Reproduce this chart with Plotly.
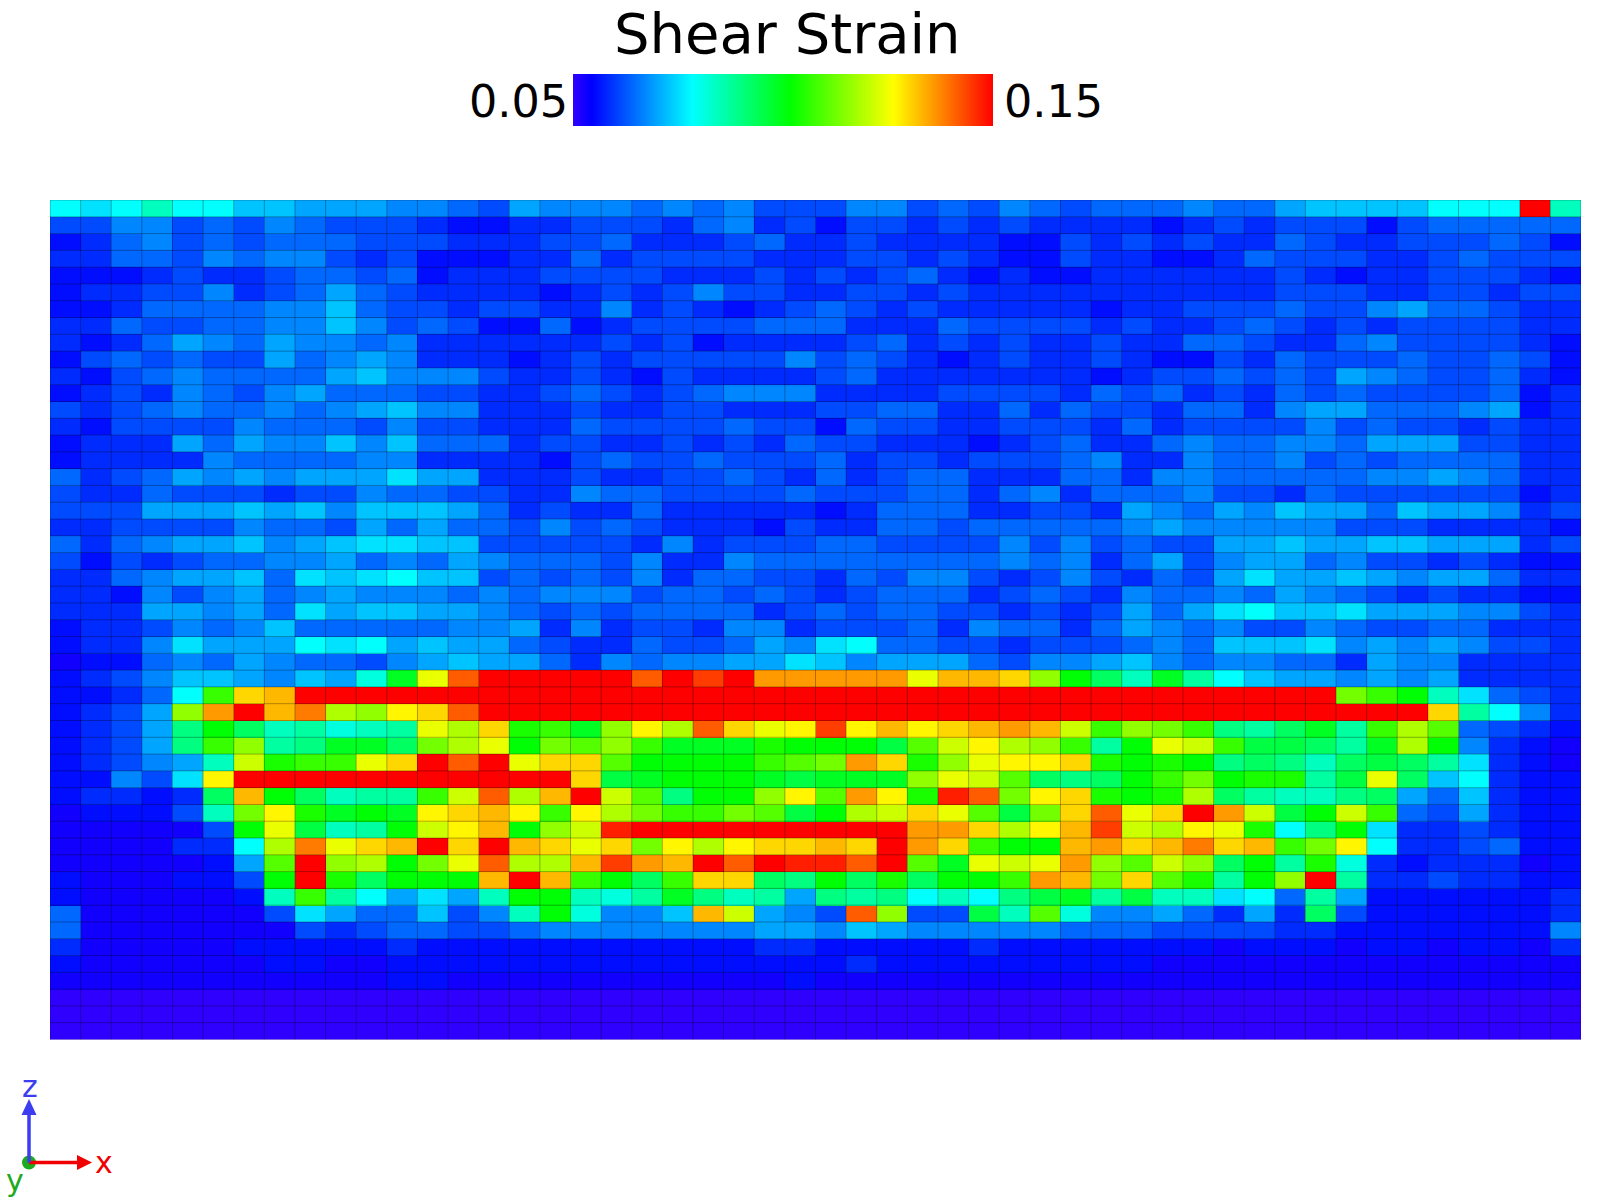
"""
Shear strain map of a 50 x 50 cell slice, seen along y.
"""
import plotly.graph_objects as go

# Cell readings, top row first, one character per cell. The character's place
# in LEVELS gives the reading on the colour bar, from 0.05 up to 0.15.
LEVELS = "0123456789abcdefghijklmnopqrstuvwxyz"
strain_min = 0.05
strain_max = 0.15

shear_rows = [
    "a9acaa8877 7665476665 6564446645 4654555655 78888aaazc",
    "4466454654 4432233444 3563424434 3433332343 4442455555",
    "2356454555 4443334453 3345334333 3224343433 5433444542",
    "3355465664 3422233534 4443334434 3224332235 4443345444",
    "2223433455 4523334444 3334343453 2322333333 4323344432",
    "2334463457 5433332343 4644334434 3333333333 4443344344",
    "2235555668 5443443363 4323454343 3333233444 5446755433",
    "3354455668 6454225234 4445553335 4444343345 4343444433",
    "3235765766 5633333343 4233334534 3433433554 3356444432",
    "2454544756 7633323434 4444645432 3433432243 5444544542",
    "3245655557 8666433432 4333345333 3333234454 5476544532",
    "2343654675 5544334543 4566633334 4443545343 5454444523",
    "4345655656 7866333433 4433344553 3535443553 6775556723",
    "3244446555 4644333544 4454425443 3444353444 4645443433",
    "2333757668 6855534433 4343544333 2345335655 6657774433",
    "2333365555 6633332454 4544453443 4445633655 6454555533",
    "5345767677 7977333433 4454353455 3335536655 5556676533",
    "4335444344 6554433655 4444544455 3563555644 3544444423",
    "4447778786 8887534335 3333323555 3344376576 8775877634",
    "3344446554 7575546454 3332433554 5555567666 6644433332",
    "5356778678 9988444443 6344455444 4646454477 8778877734",
    "4243455667 5657655546 3365555555 5656357467 7564434322",
    "3356778598 9a88454546 3554435466 4346435479 7787677533",
    "3326467567 6665656664 5545434555 3454365565 7654343322",
    "3337767597 8877654545 5553454554 434347579a 8897776643",
    "2334656855 5556673634 4366344453 6553576564 4654455333",
    "23369777a9 a787754335 445769a554 4344456588 8967676443",
    "1225657655 4678775365 6677986777 5466786566 5537663333",
    "2346887687 bhqwzzzzzw zxzuuuuuqt tsnifchda8 7767673333",
    "2235akstzz zzzzzzzzzz zzzzzzzzzz zzzzzzzzzz zzmkic9543",
    "2347nuztvo nrswzzzzzz zzzzzzzzzz zzzzzzzzzz zzzzzsda63",
    "2347eifcdb cdqosjkhnr owsqrxrtrs tutpknmked fhdkol5432",
    "2347ekndeh hfmoqimlnk hhhjiiiglp ronkdiqpkg gfdhoi6321",
    "23467cpjkk qszwzqssli iiiklmusjn qrrsjijief ecfgfd9321",
    "22649rzzzz zzzzzzzsgh iiihghhhnq plfefikmij jdgqf8a322",
    "23323ftifc ddkpwotzpl eiinrlurjy wmrsjijofd ccef758322",
    "12224cmrjh ihrstrkrom kkmlgiopsq lgmswqszup gipk547322",
    "111114iqgc diprtinpyz zzzzzzzzuu sortxporqj aei9334322",
    "111133aovq stzsztsqsm rorsstszus kiitustvst kmra334522",
    "1111127lzn oimqwootxu tzwzyywzlh qpqunlpnfi djb3233312",
    "2111224izj fiiitztkif kssfeifjfi ikutmsljdi nzd3343322",
    "2111112ckd a797ciicbd hecd7edeac aeghdgcc9a 5d72222223",
    "5111111497 55846cib66 8tp764wn44 gclb667537 3f42222223",
    "5111111143 4554456666 6667768766 6665554444 3322222226",
    "3111112222 2322222222 2223322222 3222222212 2212212213",
    "2111111221 1222222222 2222223222 2222221111 1111111111",
    "1111111111 1221111111 1111211111 1111111111 1111111111",
    "0000000000 0000000000 0000000000 0000000000 0000000000",
    "0000000000 0000000000 0000000000 0000000000 0000000000",
    "0000000000 0000000000 0000000000 0000000000 0000000000",
]

# Colour bar stops
scale_stops = [0.0, 0.045, 0.284, 0.518, 0.763, 1.0]
scale_colors = ["#3000ff", "#0000ff", "#00ffff", "#00ff00", "#ffff00", "#ff0000"]

title_text = "Shear Strain"
low_label = "0.05"
high_label = "0.15"

WIDTH, HEIGHT = 1600, 1200
FONT = "DejaVu Sans"


def px(x):
    return x / WIDTH


def py(y):
    return 1 - y / HEIGHT


def decode(row):
    cells = row.replace(" ", "")
    return [strain_min + (strain_max - strain_min) * LEVELS.index(c) / 35 for c in cells]


z = [decode(row) for row in shear_rows]
n_rows = len(z)
n_cols = len(z[0])
assert all(len(r) == n_cols for r in z), [len(r) for r in z]

fig = go.Figure()
fig.add_trace(
    go.Heatmap(
        z=z,
        zmin=strain_min,
        zmax=strain_max,
        colorscale=list(zip(scale_stops, scale_colors)),
        colorbar=dict(
            orientation="h",
            thicknessmode="pixels",
            thickness=52,
            lenmode="pixels",
            len=420,
            x=px(783),
            xanchor="center",
            y=py(73.5),
            yanchor="top",
            xpad=0,
            ypad=0,
            outlinewidth=0,
            showticklabels=False,
            ticks="",
        ),
    )
)

# Thin mesh lines over the cells
grid_x, grid_y = [], []
for i in range(n_cols + 1):
    grid_x += [i - 0.5, i - 0.5, None]
    grid_y += [-0.5, n_rows - 0.5, None]
for j in range(n_rows + 1):
    grid_x += [-0.5, n_cols - 0.5, None]
    grid_y += [j - 0.5, j - 0.5, None]
fig.add_trace(
    go.Scatter(
        x=grid_x,
        y=grid_y,
        mode="lines",
        line=dict(color="rgba(0,0,0,0.3)", width=1),
        hoverinfo="skip",
        showlegend=False,
    )
)


def label(text, x, y, size, color="black", anchor="center"):
    fig.add_annotation(
        text=text,
        x=px(x),
        y=py(y),
        xref="paper",
        yref="paper",
        xanchor=anchor,
        yanchor="middle",
        showarrow=False,
        font=dict(family=FONT, size=size, color=color),
    )


def triangle(points, color):
    path = "M " + " L ".join(f"{px(x)},{py(y)}" for x, y in points) + " Z"
    fig.add_shape(type="path", path=path, xref="paper", yref="paper",
                  fillcolor=color, line=dict(width=0))


label(title_text, 787, 34, 56)
label(low_label, 570, 102, 44.5, anchor="right")
label(high_label, 1002, 102, 44.5, anchor="left")

# Orientation triad, bottom left
ox, oy = 29, 1162.5
x_color = "#f00000"
z_color = "#3c3cf0"
y_color = "#1eaa1e"
fig.add_shape(type="circle", xref="paper", yref="paper",
              x0=px(ox - 7), x1=px(ox + 7), y0=py(oy + 7), y1=py(oy - 7),
              fillcolor=y_color, line=dict(width=0))
fig.add_shape(type="line", xref="paper", yref="paper",
              x0=px(ox), x1=px(78), y0=py(oy), y1=py(oy),
              line=dict(color=x_color, width=3.5))
triangle([(77, oy - 7.5), (92, oy), (77, oy + 7.5)], x_color)
fig.add_shape(type="line", xref="paper", yref="paper",
              x0=px(ox), x1=px(ox), y0=py(oy), y1=py(1114),
              line=dict(color=z_color, width=3.5))
triangle([(ox - 7.5, 1115), (ox, 1099), (ox + 7.5, 1115)], z_color)
label("x", 104, 1162, 30, x_color)
label("z", 30, 1086, 30, z_color)
label("y", 15, 1180, 30, y_color)

fig.update_layout(
    width=WIDTH,
    height=HEIGHT,
    margin=dict(l=0, r=0, t=0, b=0),
    paper_bgcolor="white",
    plot_bgcolor="white",
    showlegend=False,
    xaxis=dict(domain=[px(50), px(1581)], range=[-0.5, n_cols - 0.5], visible=False),
    yaxis=dict(domain=[py(1039.5), py(200)], range=[n_rows - 0.5, -0.5], visible=False),
)

# The page's default body margin would push the figure 8 px off
fig.write_html(
    "out.html",
    config={"displayModeBar": False},
    post_script="document.body.style.margin = '0';",
)
